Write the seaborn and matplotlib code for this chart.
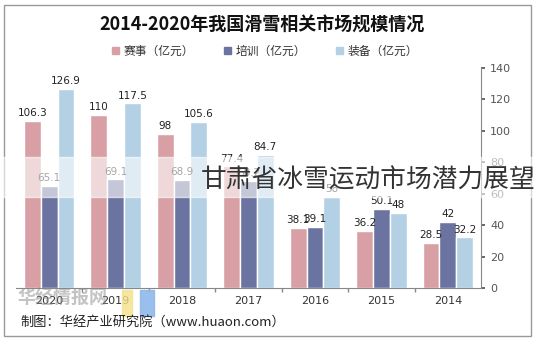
import matplotlib
matplotlib.use("Agg")
import matplotlib.pyplot as plt
import seaborn as sns
import pandas as pd
from matplotlib.patches import Rectangle

years = ["2014", "2015", "2016", "2017", "2018", "2019", "2020"]
events = [28.5, 36.2, 38.1, 77.4, 98, 110, 106.3]
training = [42, 50.1, 39.1, 68.2, 68.9, 69.1, 65.1]
equipment = [32.2, 48, 58, 84.7, 105.6, 117.5, 126.9]
series_names = ["赛事（亿元）", "培训（亿元）", "装备（亿元）"]
yticks = [0, 20, 40, 60, 80, 100, 120, 140]
title = "2014-2020年我国滑雪相关市场规模情况"
source = "制图：华经产业研究院（www.huaon.com）"
overlay = "甘肃省冰雪运动市场潜力展望"

sns.set_theme(style="white")
plt.rcParams['font.family'] = ['Noto Sans CJK SC', 'DejaVu Sans']

df = pd.DataFrame({
    "year": years * 3,
    "value": events + training + equipment,
    "series": [series_names[0]] * 7 + [series_names[1]] * 7 + [series_names[2]] * 7,
})
order = years[::-1]
palette = ["#d8a0a4", "#6b74a0", "#b3d0e4"]

W, H = 536, 341
fig = plt.figure(figsize=(W / 100, H / 100), dpi=100)
ax = fig.add_axes([16 / W, (H - 288) / H, (481 - 16) / W, (288 - 68) / H])

sns.barplot(data=df, x="year", y="value", hue="series", order=order,
            hue_order=series_names, palette=palette, width=0.76,
            saturation=1, ax=ax, legend=False)

for cont in ax.containers:
    ax.bar_label(cont, labels=[f"{v:g}" for v in cont.datavalues],
                 padding=2, fontsize=7.5, color="#222222",
                 family=['DejaVu Sans'])

ax.set_ylim(0, 140)
ax.set_xlim(-0.5, 6.5)
ax.set_yticks(yticks)
ax.yaxis.tick_right()
ax.tick_params(axis="y", labelsize=8, colors="#555555", length=3, direction="out", right=True, left=False)
ax.tick_params(axis="x", labelsize=8, colors="#333333", length=0, pad=6)
ax.set_xticks([i - 0.5 for i in range(1, 7)], minor=True)
ax.tick_params(axis="x", which="minor", length=3, color="#888888", bottom=True)
for lab in ax.get_yticklabels() + ax.get_xticklabels():
    lab.set_fontfamily('DejaVu Sans')
ax.set_xlabel("")
ax.set_ylabel("")
for s in ["top", "left"]:
    ax.spines[s].set_visible(False)
for s in ["right", "bottom"]:
    ax.spines[s].set_color("#888888")
    ax.spines[s].set_linewidth(0.8)

# outer frame
fig.patches.append(Rectangle((4 / W, 5 / H), (531 - 4) / W, (336 - 5) / H,
                             transform=fig.transFigure, fill=False,
                             edgecolor="#999999", linewidth=1))

fig.text(262 / W, 1 - 25 / H, title, ha="center", va="center",
         fontsize=13, fontweight="bold", color="#111111")

handles = [Rectangle((0, 0), 1, 1, color=c) for c in palette]
fig.legend(handles, series_names, loc="center", bbox_to_anchor=(265 / W, 1 - 51 / H),
           ncol=3, frameon=False, fontsize=8.5, handlelength=0.6, handleheight=0.6,
           columnspacing=2.5, handletextpad=0.4, labelcolor="#333333")

fig.text(20 / W, 1 - 322 / H, source, ha="left", va="center",
         fontsize=9.5, color="#222222")

# watermark
fig.text(18 / W, 1 - 298 / H, "华经情报网", ha="left", va="center",
         fontsize=13, fontweight="bold", color="#888888", alpha=0.5)
fig.patches.append(Rectangle((122 / W, 1 - 316 / H), 10 / W, 26 / H,
                             transform=fig.transFigure, color="#f3e28a", alpha=0.8))
fig.patches.append(Rectangle((140 / W, 1 - 316 / H), 14 / W, 26 / H,
                             transform=fig.transFigure, color="#8fb8ea", alpha=0.9))

# overlay band and text
fig.patches.append(Rectangle((0, 1 - 197 / H), 1, 40 / H, transform=fig.transFigure,
                             color="white", alpha=0.6, zorder=5))
fig.text(535 / W, 1 - 181 / H, overlay, ha="right", va="center",
         fontsize=18.5, color="#333333", zorder=6)

fig.savefig("out.png", dpi=100)
